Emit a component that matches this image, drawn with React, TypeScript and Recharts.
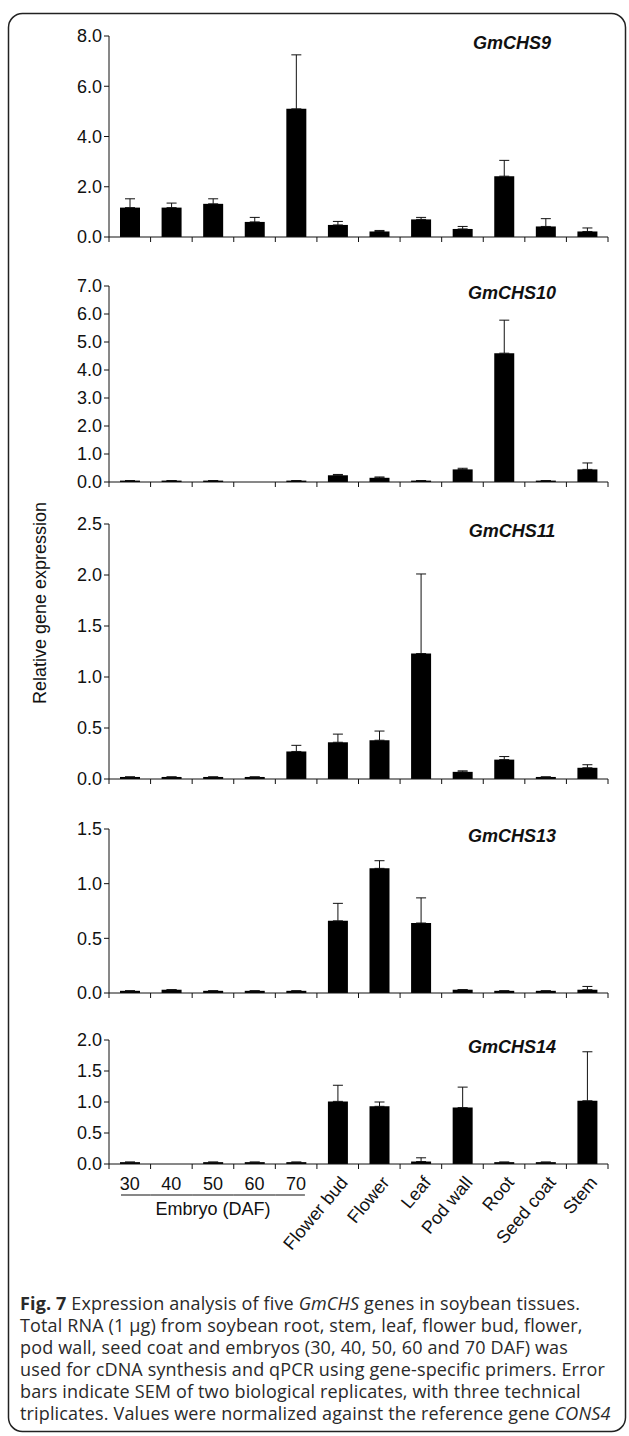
import { BarChart, Bar, XAxis, YAxis, ErrorBar } from 'recharts';

const categories = ['30', '40', '50', '60', '70', 'Flower bud', 'Flower', 'Leaf', 'Pod wall', 'Root', 'Seed coat', 'Stem'];

const chs9 = [1.17, 1.17, 1.32, 0.6, 5.1, 0.48, 0.22, 0.7, 0.32, 2.42, 0.42, 0.22];
const chs9Sem = [0.35, 0.18, 0.2, 0.18, 2.15, 0.14, 0.04, 0.08, 0.1, 0.63, 0.31, 0.14];
const chs9Ticks = [0, 2, 4, 6, 8];

const chs10 = [0.05, 0.05, 0.05, 0, 0.05, 0.24, 0.15, 0.05, 0.45, 4.6, 0.05, 0.45];
const chs10Sem = [0, 0, 0, 0, 0, 0.03, 0.03, 0, 0.04, 1.18, 0, 0.23];
const chs10Ticks = [0, 1, 2, 3, 4, 5, 6, 7];

const chs11 = [0.02, 0.02, 0.02, 0.02, 0.27, 0.36, 0.38, 1.23, 0.07, 0.19, 0.02, 0.11];
const chs11Sem = [0, 0, 0, 0, 0.06, 0.08, 0.09, 0.78, 0.01, 0.03, 0, 0.03];
const chs11Ticks = [0, 0.5, 1, 1.5, 2, 2.5];

const chs13 = [0.02, 0.03, 0.02, 0.02, 0.02, 0.66, 1.14, 0.64, 0.03, 0.02, 0.02, 0.03];
const chs13Sem = [0, 0, 0, 0, 0, 0.16, 0.07, 0.23, 0, 0, 0, 0.03];
const chs13Ticks = [0, 0.5, 1, 1.5];

const chs14 = [0.03, 0, 0.03, 0.03, 0.03, 1.01, 0.93, 0.04, 0.91, 0.03, 0.03, 1.02];
const chs14Sem = [0, 0, 0, 0, 0, 0.26, 0.07, 0.06, 0.33, 0, 0, 0.79];
const chs14Ticks = [0, 0.5, 1, 1.5, 2];

const FONT = '"Liberation Sans", Arial, sans-serif';
const INK = '#111';

const build = (vals: number[], sem: number[]) =>
  categories.map((name, i) => ({ name, value: vals[i], err: [0, sem[i]] }));

// tick marks sit on the category boundaries, not on the bar centres
const makeTick = (withLabels: boolean) => (props: any) => {
  const { x, y, payload } = props;
  const i = payload.index;
  const half = payload.offset || 20.8;
  const marks = (
    <>
      <line x1={x - half} x2={x - half} y1={y} y2={y + 5} stroke={INK} strokeWidth={1} />
      {i === categories.length - 1 && (
        <line x1={x + half} x2={x + half} y1={y} y2={y + 5} stroke={INK} strokeWidth={1} />
      )}
    </>
  );
  if (!withLabels) return <g>{marks}</g>;
  if (i < 5) {
    return (
      <g>
        {marks}
        <text x={x} y={y + 26} textAnchor="middle" fontSize={18} fontFamily={FONT} fill={INK}>
          {payload.value}
        </text>
        <line
          x1={i === 0 ? x - half + 12 : x - half}
          x2={i === 4 ? x + half - 12 : x + half}
          y1={y + 31}
          y2={y + 31}
          stroke={INK}
          strokeWidth={1}
        />
        {i === 2 && (
          <text x={x} y={y + 51} textAnchor="middle" fontSize={18} fontFamily={FONT} fill={INK}>
            Embryo (DAF)
          </text>
        )}
      </g>
    );
  }
  return (
    <g>
      {marks}
      <text
        transform={`translate(${x + 11},${y + 19}) rotate(-50)`}
        textAnchor="end"
        fontSize={18}
        fontFamily={FONT}
        fill={INK}
      >
        {payload.value}
      </text>
    </g>
  );
};

const PlainTick = makeTick(false);
const LabelTick = makeTick(true);

interface PanelProps {
  title: string;
  vals: number[];
  sem: number[];
  ticks: number[];
  plotTop: number;
  plotHeight: number;
  last?: boolean;
}

const Panel = ({ title, vals, sem, ticks, plotTop, plotHeight, last }: PanelProps) => {
  const marginTop = 12;
  const bottom = last ? 120 : 12;
  const data = build(vals, sem);
  return (
    <div style={{ position: 'absolute', left: 0, top: plotTop - marginTop }}>
      <BarChart
        width={629}
        height={marginTop + plotHeight + bottom}
        data={data}
        margin={{ top: marginTop, right: 21, left: 0, bottom: 0 }}
        barSize={20}
      >
        <XAxis
          dataKey="name"
          height={bottom}
          stroke={INK}
          tickLine={false}
          tickSize={0}
          tickMargin={0}
          interval={0}
          tick={last ? LabelTick : PlainTick}
        />
        <YAxis
          width={109}
          domain={[0, ticks[ticks.length - 1]]}
          ticks={ticks}
          interval={0}
          tickFormatter={(v: number) => v.toFixed(1)}
          tick={{ fill: INK, fontSize: 18, fontFamily: FONT }}
          tickSize={5}
          tickMargin={2}
          stroke={INK}
          allowDataOverflow
        />
        <Bar dataKey="value" fill="#000" isAnimationActive={false}>
          <ErrorBar dataKey="err" width={5} stroke={INK} strokeWidth={1} direction="y" />
        </Bar>
      </BarChart>
      <div
        style={{
          position: 'absolute',
          left: 512,
          top: marginTop - 3,
          transform: 'translateX(-50%)',
          fontFamily: FONT,
          fontSize: 18,
          fontWeight: 'bold',
          fontStyle: 'italic',
          color: INK,
          whiteSpace: 'nowrap',
        }}
      >
        {title}
      </div>
    </div>
  );
};

const captionStyle: React.CSSProperties = {
  position: 'absolute',
  left: 20,
  fontFamily: '"Open Sans", sans-serif',
  fontSize: 18,
  letterSpacing: 0.15,
  color: '#2a2a2a',
  whiteSpace: 'nowrap',
  lineHeight: '22px',
};

export default function App() {
  return (
    <div style={{ position: 'absolute', left: 0, top: 0, width: 629, height: 1436, background: '#fff' }}>
      <svg width={629} height={1436} style={{ position: 'absolute', left: 0, top: 0 }}>
        <rect x={8.5} y={13.5} width={617} height={1418} rx={14} fill="none" stroke="#222" strokeWidth={1.5} />
        <text
          transform="translate(46,603) rotate(-90)"
          textAnchor="middle"
          fontSize={18}
          fontFamily={FONT}
          fill={INK}
        >
          Relative gene expression
        </text>
      </svg>
      <Panel title="GmCHS9" vals={chs9} sem={chs9Sem} ticks={chs9Ticks} plotTop={36} plotHeight={201} />
      <Panel title="GmCHS10" vals={chs10} sem={chs10Sem} ticks={chs10Ticks} plotTop={286} plotHeight={196} />
      <Panel title="GmCHS11" vals={chs11} sem={chs11Sem} ticks={chs11Ticks} plotTop={524} plotHeight={255} />
      <Panel title="GmCHS13" vals={chs13} sem={chs13Sem} ticks={chs13Ticks} plotTop={829} plotHeight={164} />
      <Panel title="GmCHS14" vals={chs14} sem={chs14Sem} ticks={chs14Ticks} plotTop={1040} plotHeight={124} last />
      <div style={{ ...captionStyle, top: 1292 }}>
        <b>Fig. 7</b> Expression analysis of five <i>GmCHS</i> genes in soybean tissues.
        <br />
        Total RNA (1 µg) from soybean root, stem, leaf, flower bud, flower,
        <br />
        pod wall, seed coat and embryos (30, 40, 50, 60 and 70 DAF) was
        <br />
        used for cDNA synthesis and qPCR using gene-specific primers. Error
        <br />
        bars indicate SEM of two biological replicates, with three technical
        <br />
        triplicates. Values were normalized against the reference gene <i>CONS4</i>
      </div>
    </div>
  );
}
